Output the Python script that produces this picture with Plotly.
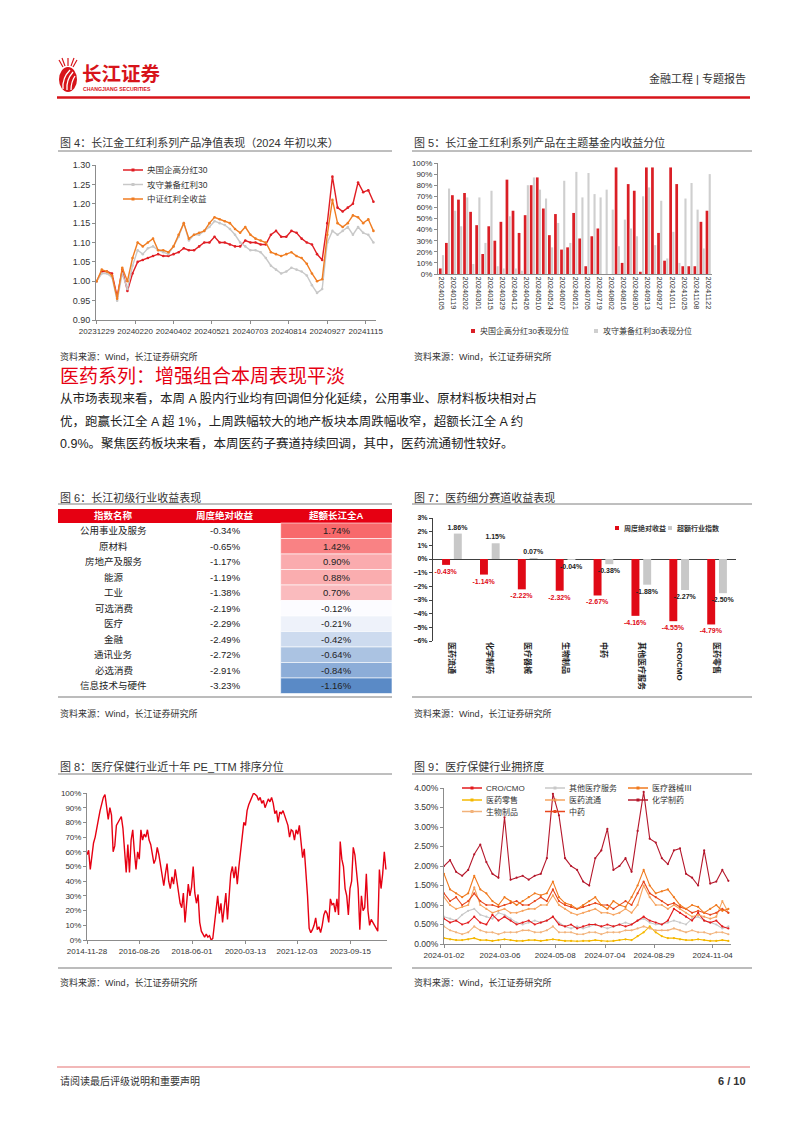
import plotly.graph_objects as go
import pandas as pd
from plotly.colors import sample_colorscale

W, H = 802, 1133
def X(px): return px / W
def Y(py): return 1 - py / H

FONT = "Liberation Sans, Noto Sans CJK SC, sans-serif"
RED = "#E60012"
BRAND = "#D7141A"
TXT = "#333333"
AXC = "#8C8C8C"

# ---------------- Fig 4 data: NAV ----------------
nav_day = list(range(0, 217, 4))
nav_tick_day = [0, 30, 60, 90, 120, 150, 180, 210]
nav_tick_text = ["20231229", "20240220", "20240402", "20240521", "20240703", "20240814", "20240927", "20241115"]
nav_names = ["央国企高分红30", "攻守兼备红利30", "中证红利全收益"]
nav_soe = [1.00, 1.025, 1.025, 1.02, 0.96, 1.03, 0.975, 1.02, 1.05, 1.055,
           1.06, 1.065, 1.07, 1.065, 1.065, 1.07, 1.075, 1.085, 1.08, 1.08,
           1.09, 1.10, 1.10, 1.115, 1.10, 1.10, 1.095, 1.09, 1.09, 1.105,
           1.10, 1.10, 1.095, 1.095, 1.12, 1.13, 1.115, 1.115, 1.13, 1.125,
           1.11, 1.10, 1.095, 1.07, 1.055, 1.15, 1.27, 1.19, 1.18, 1.19,
           1.20, 1.255, 1.23, 1.235, 1.205]
nav_bal = [1.00, 1.02, 1.02, 1.01, 0.95, 1.02, 0.98, 1.04, 1.08, 1.07,
           1.085, 1.09, 1.08, 1.075, 1.07, 1.09, 1.115, 1.15, 1.105, 1.12,
           1.12, 1.13, 1.14, 1.155, 1.15, 1.145, 1.135, 1.12, 1.10, 1.09,
           1.08, 1.08, 1.075, 1.06, 1.04, 1.03, 1.02, 1.025, 1.035, 1.03,
           1.025, 1.015, 0.99, 0.97, 0.98, 1.10, 1.13, 1.12, 1.13, 1.14,
           1.12, 1.14, 1.125, 1.12, 1.10]
nav_div = [1.00, 1.03, 1.025, 1.015, 0.955, 1.035, 1.00, 1.06, 1.10, 1.09,
           1.10, 1.11, 1.08, 1.08, 1.075, 1.09, 1.12, 1.15, 1.11, 1.12,
           1.125, 1.13, 1.15, 1.165, 1.16, 1.155, 1.15, 1.135, 1.125, 1.14,
           1.12, 1.11, 1.105, 1.10, 1.075, 1.07, 1.065, 1.07, 1.075, 1.065,
           1.06, 1.045, 1.02, 1.00, 1.005, 1.12, 1.21, 1.15, 1.14, 1.15,
           1.17, 1.165, 1.15, 1.16, 1.13]

# ---------------- Fig 5 data: percentile ----------------
rank_dates = ["20240105", "20240112", "20240119", "20240126", "20240202", "20240223", "20240301", "20240308",
              "20240315", "20240322", "20240329", "20240403", "20240412", "20240419", "20240426", "20240430",
              "20240510", "20240517", "20240524", "20240531", "20240607", "20240614", "20240621", "20240628",
              "20240705", "20240712", "20240719", "20240726", "20240802", "20240809", "20240816", "20240823",
              "20240830", "20240906", "20240913", "20240920", "20240927", "20240930", "20241011", "20241018",
              "20241025", "20241101", "20241108", "20241115", "20241122"]
rank_soe = [5, 28, 71, 67, 73, 56, 44, 18, 43, 30, 47, 85, 57, 37, 53, 80, 87, 59, 35, 54, 22, 24, 55,
            32, 7, 34, 41, 0, 0, 96, 10, 81, 75, 2, 96, 96, 37, 12, 96, 81, 7, 7, 7, 47, 57]
rank_bal = [17, 77, 57, 43, 69, 9, 69, 28, 75, 7, 5, 52, 5, 3, 80, 87, 76, 68, 24, 46, 84, 28, 92,
            69, 91, 72, 69, 76, 58, 25, 49, 41, 34, 70, 78, 26, 66, 14, 38, 10, 68, 82, 58, 23, 90]
rank_names = ["央国企高分红30表现分位", "攻守兼备红利30表现分位"]

# ---------------- Fig 6 data: table ----------------
ind_names = ["公用事业及服务", "原材料", "房地产及服务", "能源", "工业", "可选消费", "医疗", "金融",
             "通讯业务", "必选消费", "信息技术与硬件"]
ind_abs = [-0.34, -0.65, -1.17, -1.19, -1.38, -2.19, -2.29, -2.49, -2.72, -2.91, -3.23]
ind_exc = [1.74, 1.42, 0.90, 0.88, 0.70, -0.12, -0.21, -0.42, -0.64, -0.84, -1.16]
tbl_header = ["指数名称", "周度绝对收益", "超额长江全A"]

# ---------------- Fig 7 data ----------------
med_cats = ["医药流通", "化学制药", "医疗器械", "生物制品", "中药", "其他医疗服务", "CRO/CMO", "医药零售"]
med_abs = [-0.43, -1.14, -2.22, -2.32, -2.67, -4.16, -4.55, -4.79]
med_exc = [1.86, 1.15, 0.07, -0.04, -0.38, -1.88, -2.27, -2.50]
med_names = ["周度绝对收益", "超额行业指数"]

# ---------------- Fig 8 data: PE_TTM percentile ----------------
pe_ticks = ["2014-11-28", "2016-08-26", "2018-06-01", "2020-03-13", "2021-12-03", "2023-09-15"]
pe_pct = [58, 61, 48, 58, 66, 70, 75, 82, 88, 92,
          97, 99, 88, 82, 90, 85, 60, 64, 78, 80,
          82, 84, 76, 62, 46, 65, 46, 68, 75, 60,
          48, 60, 55, 75, 68, 72, 70, 75, 68, 65,
          57, 52, 55, 63, 58, 50, 42, 37, 45, 52,
          40, 35, 43, 38, 48, 40, 33, 25, 22, 32,
          12, 28, 38, 30, 36, 50, 32, 25, 31, 12,
          6, 4, 2, 4, 2, 3, 0, 1, 10, 22,
          30, 18, 25, 12, 25, 32, 14, 30, 45, 50,
          42, 50, 38, 50, 60, 73, 80, 78, 88, 92,
          95, 98, 100, 99, 98, 95, 97, 93, 95, 90,
          93, 96, 94, 97, 93, 86, 88, 80, 87, 86,
          88, 85, 82, 78, 70, 75, 74, 68, 75, 72,
          78, 66, 56, 62, 48, 30, 8, 5, 7, 10,
          15, 7, 9, 5, 10, 17, 20, 18, 12, 28,
          24, 25, 19, 28, 17, 67, 55, 50, 35, 30,
          17, 35, 40, 63, 58, 45, 35, 7, 30, 20,
          22, 45, 20, 10, 14, 12, 10, 8, 6, 48,
          35, 45, 60, 48]
pe_dates = pd.date_range("2014-11-28", "2024-11-22", periods=len(pe_pct))

# ---------------- Fig 9 data: crowding ----------------
crowd_ticks = ["2024-01-02", "2024-03-06", "2024-05-08", "2024-07-04", "2024-08-29", "2024-11-04"]
crowd_cro = [0.65, 0.55, 0.6, 0.5, 0.55, 0.7, 0.55, 0.5, 0.75, 0.6,
             0.7, 0.6, 0.5, 0.55, 0.6, 0.5, 0.55, 0.6, 0.7, 0.5,
             0.45, 0.5, 0.4, 0.45, 0.5, 0.5, 0.45, 0.5, 0.45, 0.5,
             0.45, 0.5, 0.6, 0.7, 0.6, 0.55, 0.5, 0.6, 0.9, 0.8,
             0.7, 0.6, 0.8, 0.6, 0.55, 0.6, 0.45, 0.4]
crowd_other = [0.7, 0.65, 0.6, 0.75, 0.85, 0.9, 0.75, 0.7, 0.65, 0.8,
               0.75, 0.65, 0.55, 0.5, 0.55, 0.6, 0.55, 0.6, 0.7, 0.55,
               0.45, 0.4, 0.45, 0.4, 0.45, 0.5, 0.45, 0.4, 0.45, 0.5,
               0.55, 0.5, 0.6, 0.65, 0.55, 0.5, 0.5, 0.55, 0.6, 0.55,
               0.5, 0.65, 0.7, 0.6, 0.55, 0.5, 0.4, 0.45]
crowd_device = [1.8, 1.4, 1.3, 1.2, 1.3, 1.75, 1.4, 1.3, 1.1, 1.0,
                1.2, 1.1, 1.0, 1.1, 1.2, 1.3, 1.25, 1.3, 1.6, 1.2,
                1.05, 1.0, 0.9, 1.0, 1.1, 1.2, 1.0, 0.9, 1.1, 1.0,
                0.95, 1.2, 1.5, 1.9, 1.5, 1.3, 1.35, 1.4, 1.2, 1.0,
                0.9, 1.0, 0.95, 0.8, 0.9, 1.0, 0.85, 0.9]
crowd_retail = [0.15, 0.12, 0.1, 0.1, 0.12, 0.15, 0.1, 0.1, 0.08, 0.1,
                0.12, 0.1, 0.08, 0.08, 0.1, 0.1, 0.08, 0.1, 0.12, 0.1,
                0.08, 0.08, 0.07, 0.08, 0.08, 0.1, 0.08, 0.07, 0.08, 0.1,
                0.12, 0.1, 0.2, 0.3, 0.45, 0.3, 0.2, 0.15, 0.15, 0.12,
                0.1, 0.1, 0.12, 0.1, 0.08, 0.08, 0.1, 0.08]
crowd_dist = [1.2, 1.0, 0.9, 0.95, 1.0, 1.45, 1.0, 0.9, 0.8, 0.85,
              0.9, 0.8, 0.8, 0.85, 0.9, 0.9, 1.0, 1.0, 1.25, 1.0,
              0.9, 0.8, 0.75, 0.8, 0.85, 0.9, 0.8, 0.8, 0.75, 0.8,
              0.9, 0.8, 1.0, 1.5, 1.2, 1.0, 1.0, 0.9, 1.0, 0.9,
              0.8, 0.7, 0.75, 0.7, 0.65, 0.7, 1.1, 0.8]
crowd_chem = [2.0, 2.15, 1.85, 1.75, 1.9, 2.3, 2.55, 2.1, 1.8, 1.7,
              3.25, 1.65, 1.7, 1.75, 1.65, 1.75, 1.8, 2.2, 3.85, 3.3,
              2.2, 2.0, 1.9, 1.6, 1.5, 2.2, 2.4, 2.95, 1.9, 2.0,
              2.2, 1.85, 2.9, 3.9, 2.7, 2.6, 2.2, 2.05, 2.4, 2.45,
              1.8, 1.7, 1.5, 2.4, 1.55, 1.6, 1.9, 1.62]
crowd_bio = [0.45, 0.35, 0.3, 0.25, 0.3, 0.45, 0.35, 0.3, 0.3, 0.25,
             0.3, 0.3, 0.3, 0.35, 0.35, 0.3, 0.3, 0.35, 0.45, 0.3,
             0.3, 0.3, 0.25, 0.25, 0.3, 0.3, 0.25, 0.3, 0.3, 0.3,
             0.35, 0.35, 0.4, 0.45, 0.4, 0.35, 0.35, 0.35, 0.4, 0.35,
             0.3, 0.35, 0.3, 0.3, 0.25, 0.3, 0.3, 0.25]
crowd_tcm = [1.3, 1.1, 1.2, 1.0, 1.1, 1.3, 1.1, 1.0, 1.0, 0.95,
             1.0, 1.05, 1.1, 1.0, 1.0, 1.1, 1.2, 1.1, 1.4, 1.1,
             1.0, 0.95, 0.9, 0.95, 1.0, 1.05, 1.0, 1.0, 0.9, 1.0,
             1.1, 1.0, 1.3, 1.6, 1.3, 1.2, 1.1, 1.0, 1.05, 0.95,
             0.9, 0.8, 0.85, 0.8, 0.75, 0.8, 0.9, 0.8]
crowd_dates = pd.date_range("2024-01-02", "2024-11-22", periods=len(crowd_chem))

# name, values, colour, legend column, legend row (draw order = list order)
crowd_series = [
    ("医药零售", crowd_retail, "#F5B800", 0, 1),
    ("生物制品", crowd_bio, "#F2B27A", 0, 2),
    ("其他医疗服务", crowd_other, "#C8C8C8", 1, 0),
    ("CRO/CMO", crowd_cro, "#E31A1C", 0, 0),
    ("医药流通", crowd_dist, "#F6A35E", 1, 1),
    ("中药", crowd_tcm, "#E8471E", 1, 2),
    ("医疗器械Ⅲ", crowd_device, "#F07A1E", 2, 0),
    ("化学制药", crowd_chem, "#B5172B", 2, 1),
]

# ======================================================================
fig = go.Figure()
shapes, annos = [], []

def txt(x, y, s, size, color=TXT, anchor="left", family=FONT, yanchor="middle"):
    annos.append(dict(x=X(x), y=Y(y), xref="paper", yref="paper", text=s, showarrow=False,
                      xanchor=anchor, yanchor=yanchor, font=dict(family=family, size=size, color=color)))

def hline(x0, x1, y, color="#7F7F7F", width=1):
    shapes.append(dict(type="line", xref="paper", yref="paper", x0=X(x0), x1=X(x1), y0=Y(y), y1=Y(y),
                       line=dict(color=color, width=width)))

def rect(x0, y0, x1, y1, color, lw=0, lc="white"):
    shapes.append(dict(type="rect", xref="paper", yref="paper", x0=X(x0), x1=X(x1), y0=Y(y1), y1=Y(y0),
                       fillcolor=color, line=dict(width=lw, color=lc), layer="below"))

def line_legend(x, y, name, color, size=8.5, length=20):
    hline(x, x + length, y, color, 1.5)
    rect(x + length / 2 - 1.5, y - 1.5, x + length / 2 + 1.5, y + 1.5, color)
    txt(x + length + 2, y, name, size)

def ax(**kw):
    d = dict(showgrid=False, zeroline=False, showline=True, linecolor=AXC, linewidth=1,
             ticks="outside", ticklen=3, tickcolor=AXC, automargin=False, tickangle=0,
             tickfont=dict(family=FONT, size=8.5, color=TXT))
    d.update(kw)
    return d

# ---------------- header ----------------
shapes.append(dict(type="circle", xref="paper", yref="paper", x0=X(59), x1=X(77), y0=Y(92), y1=Y(67),
                   fillcolor=BRAND, line=dict(width=0)))
for (ax0, ay0, cx, cy, ax1, ay1) in [(63, 89, 62, 78, 70, 70), (67, 90, 66, 80, 73, 72), (71, 90, 71, 82, 75, 76)]:
    shapes.append(dict(type="path", xref="paper", yref="paper",
                       path=f"M {X(ax0)},{Y(ay0)} Q {X(cx)},{Y(cy)} {X(ax1)},{Y(ay1)}",
                       line=dict(color="white", width=1.3)))
for (a, b, c, d) in [(63, 67, 59, 60), (68, 66, 68, 58), (73, 67, 77, 60), (65, 66, 62, 58), (71, 66, 74, 58)]:
    shapes.append(dict(type="line", xref="paper", yref="paper", x0=X(a), y0=Y(b), x1=X(c), y1=Y(d),
                       line=dict(color=BRAND, width=1.2)))
txt(80, 72, "<b>长江证券</b>", 19.5, BRAND, family="Noto Sans CJK SC")
txt(81, 88.5, "<b>CHANGJIANG SECURITIES</b>", 5.2, BRAND)
txt(748, 79, "金融工程 | 专题报告", 11, TXT, anchor="right")
hline(57, 750, 97.5, BRAND, 2.5)

# ---------------- titles / sources ----------------
txt(58, 142, "图 4：长江金工红利系列产品净值表现（2024 年初以来）", 11)
hline(58, 392, 151)
txt(412, 142, "图 5：长江金工红利系列产品在主题基金内收益分位", 11)
hline(412, 752, 151)
txt(58, 357, "资料来源：Wind，长江证券研究所", 9)
txt(412, 357, "资料来源：Wind，长江证券研究所", 9)

txt(58, 375, "医药系列：增强组合本周表现平淡", 19, RED, family="Noto Sans CJK SC")
para = ["从市场表现来看，本周 A 股内行业均有回调但分化延续，公用事业、原材料板块相对占",
        "优，跑赢长江全 A 超 1%，上周跌幅较大的地产板块本周跌幅收窄，超额长江全 A 约",
        "0.9%。聚焦医药板块来看，本周医药子赛道持续回调，其中，医药流通韧性较好。"]
for i, line in enumerate(para):
    txt(58, 399 + 22 * i, line, 12.5, "#222222")

txt(58, 497, "图 6：长江初级行业收益表现", 11)
hline(58, 392, 504)
txt(412, 497, "图 7：医药细分赛道收益表现", 11)
hline(412, 752, 504)
hline(58, 392, 697, "#A6A6A6", 1.5)
hline(412, 752, 697, "#A6A6A6", 1.5)
txt(58, 713, "资料来源：Wind，长江证券研究所", 9)
txt(412, 713, "资料来源：Wind，长江证券研究所", 9)

txt(58, 766, "图 8：医疗保健行业近十年 PE_TTM 排序分位", 11)
hline(58, 392, 774)
txt(412, 766, "图 9：医疗保健行业拥挤度", 11)
hline(412, 752, 774)
hline(58, 392, 968, "#A6A6A6", 1.5)
hline(412, 752, 968, "#A6A6A6", 1.5)
txt(58, 982, "资料来源：Wind，长江证券研究所", 9)
txt(412, 982, "资料来源：Wind，长江证券研究所", 9)

# footer
hline(57, 750, 1067, "#F2B8B8", 2)
txt(58, 1081, "请阅读最后评级说明和重要声明", 10, TXT)
txt(748, 1081, "<b>6 / 10</b>", 11, TXT, anchor="right")

# ---------------- Fig 4 ----------------
nav_colors = ["#E01E24", "#C8C8C8", "#F07D22"]
for name, vals, col in zip(nav_names, [nav_soe, nav_bal, nav_div], nav_colors):
    fig.add_trace(go.Scatter(x=nav_day, y=vals, name=name, mode="lines+markers",
                             line=dict(color=col, width=1.4), marker=dict(size=2.6, color=col),
                             xaxis="x", yaxis="y", cliponaxis=False))
for i, (name, col) in enumerate(zip(nav_names, nav_colors)):
    line_legend(123, 170 + 14.5 * i, name, col, 8.5)

# ---------------- Fig 5 ----------------
fig.add_trace(go.Bar(x=rank_dates, y=rank_soe, name=rank_names[0], marker=dict(color="#DA1F26", line=dict(width=0)),
                     width=0.45, offset=-0.45, xaxis="x2", yaxis="y2"))
fig.add_trace(go.Bar(x=rank_dates, y=rank_bal, name=rank_names[1], marker=dict(color="#CFCFCF", line=dict(width=0)),
                     width=0.35, offset=0.05, xaxis="x2", yaxis="y2"))
rect(471, 329, 475, 333, "#DA1F26")
txt(478, 331, rank_names[0], 8)
rect(594, 329, 598, 333, "#CFCFCF")
txt(601, 331, rank_names[1], 8)

# ---------------- Fig 6 table (drawn cell by cell) ----------------
vmin, vmax = min(ind_exc), max(ind_exc)
vmid = sorted(ind_exc)[len(ind_exc) // 2]
scale = [[0, "#5A8AC6"], [(vmid - vmin) / (vmax - vmin), "#FCFCFF"], [1, "#F8696B"]]
exc_colors = sample_colorscale(scale, [(v - vmin) / (vmax - vmin) for v in ind_exc])
tx0, tx1 = 58, 392
col_w = (tx1 - tx0) / 3
hy0, hh, rh = 509, 14, 15.5
rect(tx0, hy0, tx1, hy0 + hh, RED)
for j, h in enumerate(tbl_header):
    txt(tx0 + col_w * (j + 0.5), hy0 + hh / 2, f"<b>{h}</b>", 9.5, "white", anchor="center")
for i, (nm, a, e, c) in enumerate(zip(ind_names, ind_abs, ind_exc, exc_colors)):
    ry0 = hy0 + hh + rh * i
    rect(tx0 + 2 * col_w, ry0, tx1, ry0 + rh, c, 0.6, "white")
    cy = ry0 + rh / 2
    txt(tx0 + col_w * 0.5, cy, nm, 9.5, "#222222", anchor="center")
    txt(tx0 + col_w * 1.5, cy, f"{a:.2f}%", 9.5, "#222222", anchor="center")
    txt(tx0 + col_w * 2.5, cy, f"{e:.2f}%", 9.5, "#222222", anchor="center")

# ---------------- Fig 7 ----------------
fig.add_trace(go.Bar(x=med_cats, y=med_abs, name=med_names[0], marker=dict(color="#E00A16", line=dict(width=0)),
                     width=0.21, offset=-0.26, text=[f"{v:.2f}%" for v in med_abs], textposition="outside",
                     textangle=0, constraintext="none", cliponaxis=False,
                     textfont=dict(family=FONT, size=7, color="#E00A16", weight="bold"),
                     xaxis="x3", yaxis="y3"))
fig.add_trace(go.Bar(x=med_cats, y=med_exc, name=med_names[1], marker=dict(color="#C8C8C8", line=dict(width=0)),
                     width=0.21, offset=0.05, text=[f"{v:.2f}%" for v in med_exc], textposition="outside",
                     textangle=0, constraintext="none", cliponaxis=False,
                     textfont=dict(family=FONT, size=7, color="#222222", weight="bold"),
                     xaxis="x3", yaxis="y3"))
rect(615, 526, 619, 530, "#E00A16")
txt(622, 528, "<b>" + med_names[0] + "</b>", 7)
rect(668, 526, 672, 530, "#C8C8C8")
txt(675, 528, "<b>" + med_names[1] + "</b>", 7)

# ---------------- Fig 8 ----------------
fig.add_trace(go.Scatter(x=pe_dates, y=pe_pct, mode="lines", line=dict(color="#E60012", width=1.4),
                         xaxis="x4", yaxis="y4", cliponaxis=False))

# ---------------- Fig 9 ----------------
leg_x = [462, 545, 628]
leg_y = [788, 800, 811.5]
for name, vals, col, c, r in crowd_series:
    fig.add_trace(go.Scatter(x=crowd_dates, y=vals, name=name, mode="lines+markers",
                             line=dict(color=col, width=1.1), marker=dict(size=2.2, color=col),
                             xaxis="x5", yaxis="y5", cliponaxis=False))
    line_legend(leg_x[c], leg_y[r], name, col, 8, 20)

# ---------------- layout ----------------
fig.update_layout(
    width=W, height=H, margin=dict(l=0, r=0, t=0, b=0, pad=0, autoexpand=False),
    paper_bgcolor="white", plot_bgcolor="rgba(0,0,0,0)", showlegend=False,
    barmode="overlay", font=dict(family=FONT, color=TXT),
    xaxis=ax(domain=[X(96), X(376)], range=[-0.5, 218], tickvals=nav_tick_day, ticktext=nav_tick_text,
             anchor="y", tickfont=dict(family=FONT, size=8, color=TXT)),
    yaxis=ax(domain=[Y(320), Y(165)], range=[0.90, 1.30], dtick=0.05, tickformat=".2f", anchor="x",
             tickfont=dict(family=FONT, size=9, color=TXT)),
    xaxis2=ax(domain=[X(438), X(712)], type="category", categoryarray=rank_dates, categoryorder="array",
              range=[-0.6, len(rank_dates) - 0.4], tickvals=rank_dates[::2], ticktext=rank_dates[::2],
              tickangle=90, ticks="", anchor="y2", tickfont=dict(family=FONT, size=7.5, color=TXT)),
    yaxis2=ax(domain=[Y(274), Y(163)], range=[0, 100], dtick=10, ticksuffix="%", anchor="x2",
              tickfont=dict(family=FONT, size=8, color=TXT)),
    xaxis3=ax(domain=[X(433), X(736)], type="category", showline=False, ticks="", tickangle=90,
              anchor="y3", tickfont=dict(family=FONT, size=8, color="#222222", weight="bold")),
    yaxis3=ax(domain=[Y(641), Y(518)], range=[-6, 3], dtick=1, ticksuffix="%", anchor="x3",
              zeroline=True, zerolinecolor="#404040", zerolinewidth=1, linecolor="#404040",
              tickcolor="#404040", tickfont=dict(family=FONT, size=7, color="#222222", weight="bold")),
    xaxis4=ax(domain=[X(87), X(387)], type="date", range=["2014-11-28", "2024-12-05"],
              tickvals=pe_ticks, ticktext=pe_ticks, anchor="y4", tickfont=dict(family=FONT, size=8, color=TXT)),
    yaxis4=ax(domain=[Y(940), Y(793)], range=[0, 100], dtick=10, ticksuffix="%", anchor="x4",
              tickfont=dict(family=FONT, size=8, color=TXT)),
    xaxis5=ax(domain=[X(444), X(731)], type="date", range=["2024-01-02", "2024-11-25"],
              tickvals=crowd_ticks, ticktext=crowd_ticks, anchor="y5", tickfont=dict(family=FONT, size=8, color=TXT)),
    yaxis5=ax(domain=[Y(944), Y(788)], range=[0, 4.0], dtick=0.5, tickformat=".2f", ticksuffix="%",
              anchor="x5", tickfont=dict(family=FONT, size=8.5, color=TXT)),
    shapes=shapes, annotations=annos,
)

fig.write_html("out.html")
